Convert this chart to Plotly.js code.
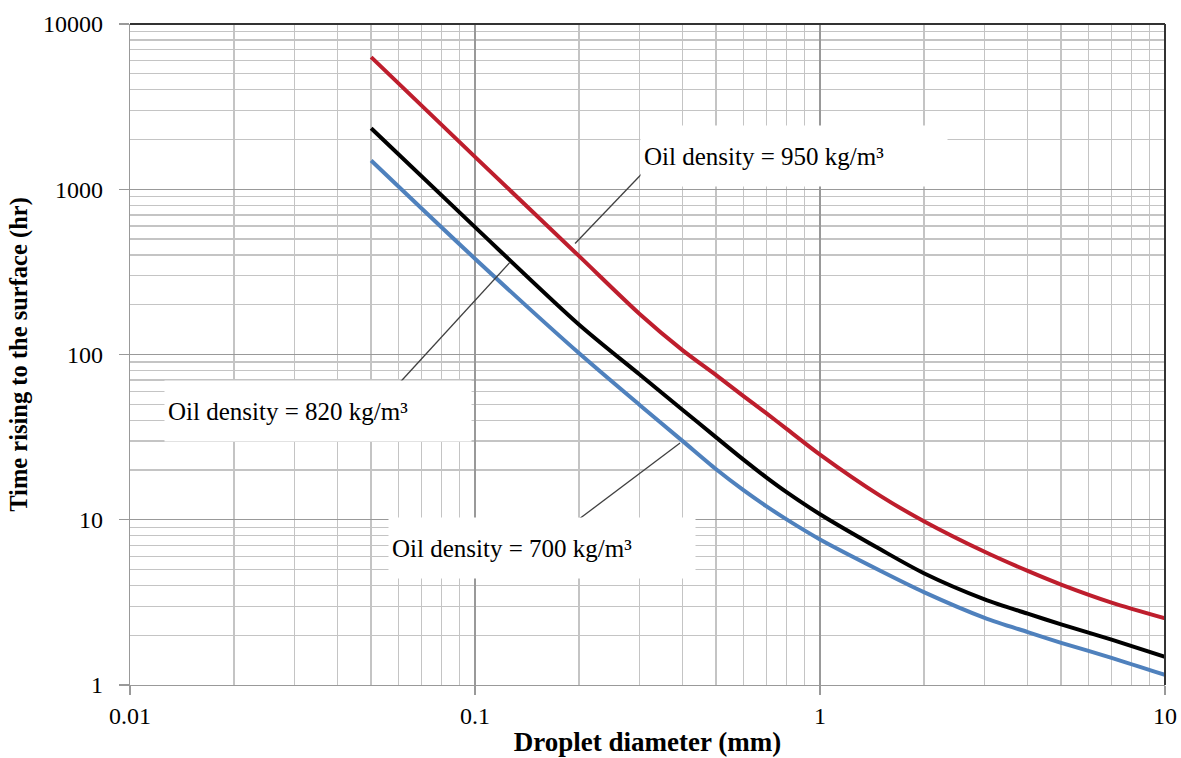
<!DOCTYPE html>
<html>
<head>
<meta charset="utf-8">
<script src="https://cdn.plot.ly/plotly-3.0.1.min.js"></script>
<style>html,body{margin:0;padding:0;background:#fff;}#chart{width:1181px;height:758px;}</style>
</head>
<body>
<div id="chart"></div>
<script>
// Droplet diameter (mm)
const diameter = [0.05, 0.1, 0.2, 0.3, 0.4, 0.5, 0.6, 0.7, 0.8, 1, 1.5, 2, 3, 4, 5, 7, 10];
// Time rising to the surface (hr)
const rho950 = [6300, 1570, 395, 176, 106, 75, 56, 44, 35.5, 24.8, 13.9, 9.8, 6.4, 4.9, 4.05, 3.15, 2.53];
const rho820 = [2340, 590, 152, 75.7, 46.2, 31.5, 23.1, 18.0, 14.7, 10.8, 6.6, 4.75, 3.3, 2.7, 2.33, 1.88, 1.48];
const rho700 = [1493, 380, 102, 49.5, 29.9, 20.2, 15.1, 12.05, 10.05, 7.6, 4.9, 3.65, 2.55, 2.09, 1.8, 1.46, 1.15];
const seriesNames = ['Oil density = 950 kg/m³', 'Oil density = 820 kg/m³', 'Oil density = 700 kg/m³'];
const seriesColors = ['#BE1E2D', '#000000', '#4F81BD'];
const xTicks = [0.01, 0.1, 1, 10];
const xTickText = ['0.01', '0.1', '1', '10'];
const yTicks = [1, 10, 100, 1000, 10000];
const yTickText = ['1', '10', '100', '1000', '10000'];

const FONT = '"Liberation Serif", "Times New Roman", serif';
const ys = [rho950, rho820, rho700];
const traces = ys.map((y, i) => ({
  x: diameter, y: y, type: 'scatter', mode: 'lines', name: seriesNames[i],
  line: {color: seriesColors[i], width: 4, shape: 'spline', smoothing: 0.8},
  hoverinfo: 'x+y'
}));

// label box centres (data units) and leader line ends (data units)
const labelX = [0.84, 0.0351, 0.156];
const labelY = [1580, 45.5, 6.7];
const leaderFrom = [[0.321, 1393], [0.0575, 60.1], [0.199, 10.0]];
const leaderTo = [[0.195, 470], [0.126, 360], [0.393, 29.1]];

const annotations = seriesNames.map((t, i) => ({
  x: Math.log10(labelX[i]), y: Math.log10(labelY[i]), xref: 'x', yref: 'y',
  text: t, showarrow: false, bgcolor: '#ffffff', width: 300, height: 54,
  align: 'left', valign: 'middle', borderpad: 3,
  font: {family: FONT, size: 25, color: '#000'}
}));

const shapes = leaderFrom.map((f, i) => ({
  type: 'line', xref: 'x', yref: 'y', x0: f[0], y0: f[1], x1: leaderTo[i][0], y1: leaderTo[i][1],
  line: {color: '#404040', width: 1.3}, layer: 'above'
}));
shapes.push({type: 'line', xref: 'paper', yref: 'paper', x0: 0, x1: 1, y0: 1, y1: 1, line: {color: '#333', width: 2}});
shapes.push({type: 'line', xref: 'paper', yref: 'paper', x0: 1, x1: 1, y0: 0, y1: 1, line: {color: '#333', width: 2}});

const layout = {
  width: 1181, height: 758,
  margin: {l: 130, r: 16, t: 24, b: 73},
  paper_bgcolor: '#fff', plot_bgcolor: '#fff',
  showlegend: false,
  font: {family: FONT, color: '#000'},
  xaxis: {
    type: 'log', range: [-2, 1],
    tickvals: xTicks, ticktext: xTickText,
    ticks: 'outside', ticklen: 9, tickcolor: '#999', tickwidth: 1.3,
    showline: true, linecolor: '#999', linewidth: 1.3,
    gridcolor: '#999', gridwidth: 1.3, zeroline: false,
    minor: {dtick: 'D1', showgrid: true, gridcolor: '#c4c4c4', gridwidth: 1.3, ticks: ''},
    tickfont: {family: FONT, size: 24, color: '#000'},
    title: {text: '<b>Droplet diameter (mm)</b>', font: {family: FONT, size: 27, color: '#000'}, standoff: 4}
  },
  yaxis: {
    type: 'log', range: [0, 4],
    tickvals: yTicks, ticktext: yTickText,
    ticks: 'outside', ticklen: 10, tickcolor: '#999', tickwidth: 1.3,
    ticklabelstandoff: 11,
    showline: true, linecolor: '#999', linewidth: 1.3,
    gridcolor: '#999', gridwidth: 1.3, zeroline: false,
    minor: {dtick: 'D1', showgrid: true, gridcolor: '#c4c4c4', gridwidth: 1.3, ticks: ''},
    tickfont: {family: FONT, size: 24, color: '#000'},
    title: {text: '<b>Time rising to the surface (hr)</b>', font: {family: FONT, size: 24.5, color: '#000'}, standoff: 8}
  },
  annotations: annotations,
  shapes: shapes
};

Plotly.newPlot('chart', traces, layout, {displayModeBar: false, staticPlot: true});
</script>
</body>
</html>
